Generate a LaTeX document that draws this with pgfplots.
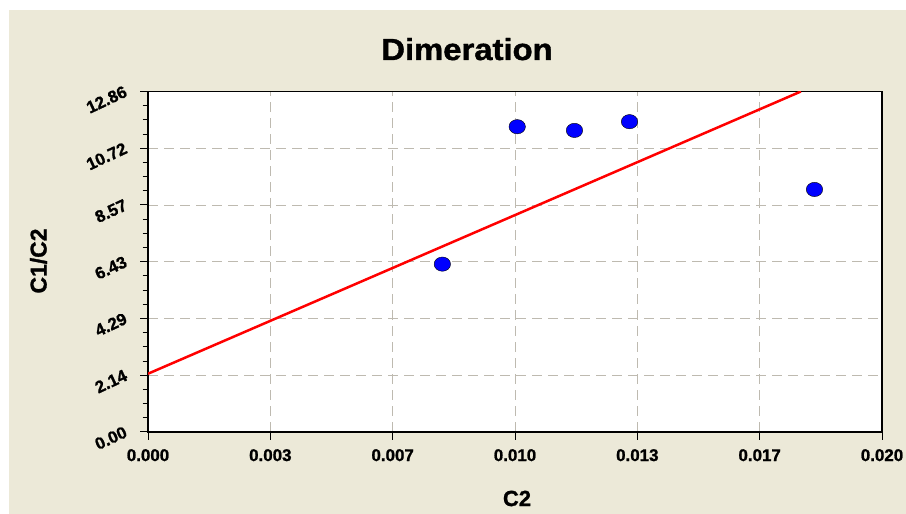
\documentclass[border=0pt]{standalone}
\usepackage{fontspec}
\setmainfont{Liberation Sans}
\newfontfamily\heavy{Liberation Sans Bold}[FakeBold=1.2]
\usepackage{pgfplots}
\pgfplotsset{compat=1.18}
\definecolor{panel}{RGB}{236,233,216}
\definecolor{gridc}{RGB}{190,186,176}
\definecolor{ptblue}{RGB}{0,0,255}
\definecolor{fitred}{RGB}{255,0,0}
\begin{document}
\begin{tikzpicture}[x=1bp,y=1bp]
\fill[white] (0,0) rectangle (906,514);
\fill[panel] (9,0) rectangle (906,504);
\begin{axis}[
    at={(148bp,82bp)}, anchor=south west,
    scale only axis, width=734bp, height=340.5bp,
    xmin=0, xmax=0.02, ymin=0, ymax=12.86,
    axis background/.style={fill=white},
    axis line style={black, line width=1.2bp},
    scaled x ticks=false, scaled y ticks=false,
    xtick={0,0.0033333,0.0066667,0.01,0.0133333,0.0166667,0.02},
    xticklabels={0.000,0.003,0.007,0.010,0.013,0.017,0.020},
    ytick={0,2.14333,4.28667,6.43,8.57333,10.71667,12.86},
    yticklabels={0.00,2.14,4.29,6.43,8.57,10.72,12.86},
    minor x tick num=5, minor y tick num=3,
    tick align=outside, xtick pos=bottom, ytick pos=left,
    major tick length=8bp, minor tick length=5.5bp,
    tick style={black, line width=1bp},
    grid=major,
    major grid style={gridc, line width=0.9bp, dash pattern=on 10bp off 6bp},
    ticklabel style={font=\heavy\fontsize{17}{17}\selectfont, inner sep=0pt},
    xticklabel style={yshift=-9bp},
    yticklabel style={anchor=east, xshift=-14bp, yshift=1bp, rotate=25},
  ]
  \addplot[fitred, line width=2.5bp, mark=none] coordinates {
    (0, 2.2) (0.01779, 12.86)
  };
  \addplot[only marks, mark=*, mark size=7.15bp,
           mark options={xscale=1.15, fill=ptblue, draw=none}] coordinates {
    (0.00802, 6.34) (0.01006, 11.53) (0.01162, 11.39) (0.01312, 11.72) (0.01816, 9.16)
  };
\end{axis}
\node[font=\heavy\fontsize{30.5}{30}\selectfont, anchor=base] at (467,454) {\scalebox{1.08}[1]{Dimeration}};
\node[font=\heavy\fontsize{23}{23}\selectfont, rotate=90] at (38.5,253) {C1/C2};
\node[font=\heavy\fontsize{22}{22}\selectfont] at (517,15.5) {C2};
\end{tikzpicture}
\end{document}
